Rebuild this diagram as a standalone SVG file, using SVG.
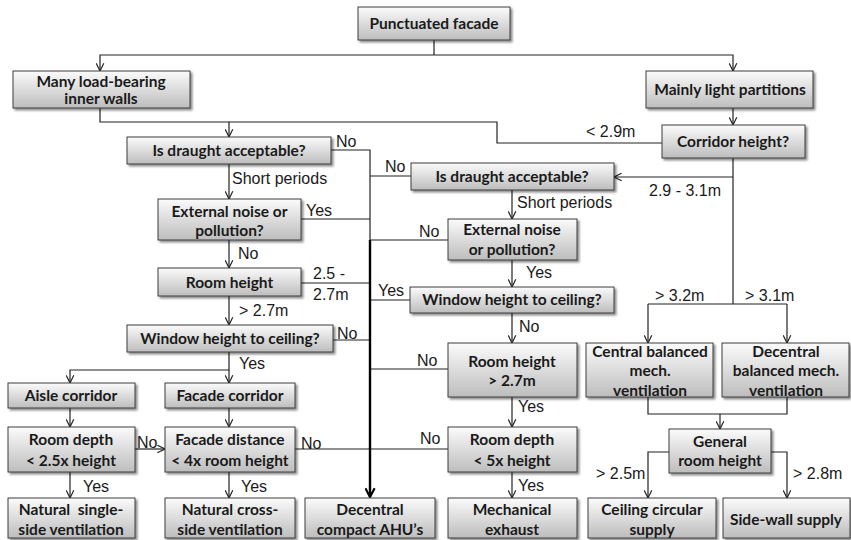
<svg xmlns="http://www.w3.org/2000/svg" width="851" height="540" viewBox="0 0 851 540">
  <defs>
    <linearGradient id="boxFill" x1="0" y1="0" x2="0" y2="1">
      <stop offset="0" stop-color="#fbfbfb"/>
      <stop offset="1" stop-color="#bdbdbd"/>
    </linearGradient>
    <filter id="shadow" x="-10%" y="-20%" width="130%" height="160%">
      <feDropShadow dx="2" dy="2" stdDeviation="1.3" flood-color="#000" flood-opacity="0.45"/>
    </filter>
    <marker id="arr" viewBox="0 0 10 10" refX="9.5" refY="5" markerWidth="9" markerHeight="9" markerUnits="userSpaceOnUse" orient="auto">
      <path d="M1,0.8 L9.5,5 L1,9.2" fill="none" stroke="#222" stroke-width="1.3"/>
    </marker>
    <marker id="arrBold" viewBox="0 0 10 10" refX="9" refY="5" markerWidth="11" markerHeight="11" markerUnits="userSpaceOnUse" orient="auto">
      <path d="M1,0.8 L9,5 L1,9.2" fill="none" stroke="#000" stroke-width="2"/>
    </marker>
  </defs>
  <style>
    .box { fill: url(#boxFill); stroke: #3c3c3c; stroke-width: 1; filter: url(#shadow); }
    .bt { font-family: Lato, "Liberation Sans", sans-serif; font-weight: bold; font-size: 15.5px; fill: #1a1a1a; text-anchor: middle; }
    .lbl { font-family: "Liberation Sans", Arial, sans-serif; font-size: 16px; fill: #1a1a1a; }
    .ln { fill: none; stroke: #222; stroke-width: 1.2; }
    .arrow { marker-end: url(#arr); }
    .trunk { fill: none; stroke: #000; stroke-width: 2.4; marker-end: url(#arrBold); }
  </style>

  <!-- connectors -->
  <g id="connectors">
    <path class="ln" d="M434,40 V55"/>
    <path class="ln arrow" d="M434,55 H100 V71"/>
    <path class="ln arrow" d="M434,55 H733 V71"/>
    <path class="ln arrow" d="M100,108 V122 H229 V137"/>
    <path class="ln" d="M662,143 H497 V122 H229"/>
    <path class="ln arrow" d="M733,108 V125"/>
    <path class="ln" d="M733,158 V304"/>
    <path class="ln arrow" d="M733,177 H614"/>
    <path class="ln" d="M648,304 H787"/>
    <path class="ln arrow" d="M648,304 V343"/>
    <path class="ln arrow" d="M787,304 V343"/>

    <path class="ln arrow" d="M229,164 V199"/>
    <path class="ln" d="M331,150 H370 V241"/>
    <path class="ln" d="M370,176 H411"/>
    <path class="ln" d="M301,219 H370"/>
    <path class="ln" d="M370,240 H448"/>
    <path class="ln arrow" d="M229,240 V268"/>
    <path class="ln" d="M301,283 H370"/>
    <path class="ln" d="M370,300 H410"/>
    <path class="ln arrow" d="M229,296 V325"/>
    <path class="ln" d="M333,340 H370"/>
    <path class="ln" d="M370,369 H448"/>
    <path class="ln arrow" d="M229,352 V370 H70 V383"/>
    <path class="ln arrow" d="M229,370 V383"/>
    <path class="ln arrow" d="M70,408 V427"/>
    <path class="ln arrow" d="M229,408 V427"/>
    <path class="ln arrow" d="M135,449 H165"/>
    <path class="ln arrow" d="M70,472 V498"/>
    <path class="ln arrow" d="M229,472 V498"/>
    <path class="ln" d="M295,449 H448"/>
    <path class="trunk" d="M370,240 V497"/>

    <path class="ln arrow" d="M512,190 V219"/>
    <path class="ln arrow" d="M512,260 V287"/>
    <path class="ln arrow" d="M512,313 V343"/>
    <path class="ln arrow" d="M512,397 V427"/>
    <path class="ln arrow" d="M512,472 V498"/>

    <path class="ln" d="M648,397 V414 H787 V397"/>
    <path class="ln arrow" d="M720,414 V429"/>
    <path class="ln arrow" d="M669,452 H648 V498"/>
    <path class="ln arrow" d="M771,452 H787 V498"/>
  </g>

  <!-- branch labels -->
  <g id="labels" class="lbl">
    <text x="586" y="137">&lt; 2.9m</text>
    <text x="649" y="196">2.9 - 3.1m</text>
    <text x="655" y="301">&gt; 3.2m</text>
    <text x="745" y="301">&gt; 3.1m</text>
    <text x="336" y="147">No</text>
    <text x="232" y="184">Short periods</text>
    <text x="385" y="172">No</text>
    <text x="517" y="208">Short periods</text>
    <text x="306" y="216">Yes</text>
    <text x="419" y="237">No</text>
    <text x="238" y="259">No</text>
    <text x="526" y="278">Yes</text>
    <text x="313" y="279">2.5 -</text>
    <text x="313" y="300">2.7m</text>
    <text x="378" y="296">Yes</text>
    <text x="239" y="316">&gt; 2.7m</text>
    <text x="519" y="332">No</text>
    <text x="337" y="339">No</text>
    <text x="417" y="366">No</text>
    <text x="239" y="369">Yes</text>
    <text x="518" y="412">Yes</text>
    <text x="137" y="448">No</text>
    <text x="301" y="449">No</text>
    <text x="420" y="444">No</text>
    <text x="596" y="479">&gt; 2.5m</text>
    <text x="793" y="479">&gt; 2.8m</text>
    <text x="83" y="492">Yes</text>
    <text x="241" y="492">Yes</text>
    <text x="518" y="491">Yes</text>
  </g>

  <!-- nodes -->
  <g id="punctuated-facade"><rect class="box" x="358" y="7" width="152" height="33"/><text class="bt" x="434" y="29">Punctuated facade</text></g>
  <g id="load-bearing-walls"><rect class="box" x="13" y="71" width="177" height="37"/><text class="bt" x="101" y="87">Many load-bearing</text><text class="bt" x="101" y="104">inner walls</text></g>
  <g id="light-partitions"><rect class="box" x="646" y="71" width="167" height="37"/><text class="bt" x="730" y="95">Mainly light partitions</text></g>
  <g id="corridor-height"><rect class="box" x="662" y="125" width="143" height="33"/><text class="bt" x="733" y="147">Corridor height?</text></g>

  <g id="draught-left"><rect class="box" x="127" y="137" width="204" height="27"/><text class="bt" x="229" y="156">Is draught acceptable?</text></g>
  <g id="noise-left"><rect class="box" x="158" y="199" width="143" height="41"/><text class="bt" x="229.5" y="217">External noise or</text><text class="bt" x="229.5" y="236">pollution?</text></g>
  <g id="room-height-left"><rect class="box" x="158" y="268" width="143" height="28"/><text class="bt" x="229.5" y="288">Room height</text></g>
  <g id="window-left"><rect class="box" x="127" y="325" width="206" height="27"/><text class="bt" x="230" y="344">Window height to ceiling?</text></g>
  <g id="aisle-corridor"><rect class="box" x="8" y="383" width="127" height="25"/><text class="bt" x="71" y="401">Aisle corridor</text></g>
  <g id="facade-corridor"><rect class="box" x="165" y="383" width="130" height="25"/><text class="bt" x="230" y="401">Facade corridor</text></g>
  <g id="room-depth-25"><rect class="box" x="8" y="427" width="127" height="45"/><text class="bt" x="71" y="445">Room depth</text><text class="bt" x="71" y="466">&lt; 2.5x height</text></g>
  <g id="facade-distance"><rect class="box" x="165" y="427" width="130" height="45"/><text class="bt" x="230" y="445">Facade distance</text><text class="bt" x="230" y="466">&lt; 4x room height</text></g>
  <g id="natural-single"><rect class="box" x="8" y="498" width="127" height="40"/><text class="bt" x="71" y="515" xml:space="preserve">Natural  single-</text><text class="bt" x="71" y="535">side ventilation</text></g>
  <g id="natural-cross"><rect class="box" x="165" y="498" width="130" height="40"/><text class="bt" x="230" y="515">Natural cross-</text><text class="bt" x="230" y="535">side ventilation</text></g>
  <g id="decentral-compact"><rect class="box" x="305" y="498" width="130" height="40"/><text class="bt" x="370" y="515">Decentral</text><text class="bt" x="370" y="535">compact AHU’s</text></g>

  <g id="draught-right"><rect class="box" x="411" y="163" width="203" height="27"/><text class="bt" x="512" y="182">Is draught acceptable?</text></g>
  <g id="noise-right"><rect class="box" x="448" y="219" width="129" height="41"/><text class="bt" x="512" y="235">External noise</text><text class="bt" x="512" y="255">or pollution?</text></g>
  <g id="window-right"><rect class="box" x="410" y="287" width="204" height="26"/><text class="bt" x="512" y="305">Window height to ceiling?</text></g>
  <g id="room-height-27"><rect class="box" x="448" y="343" width="129" height="54"/><text class="bt" x="512" y="367">Room height</text><text class="bt" x="512" y="386">&gt; 2.7m</text></g>
  <g id="room-depth-5"><rect class="box" x="448" y="427" width="129" height="45"/><text class="bt" x="512" y="445">Room depth</text><text class="bt" x="512" y="466">&lt; 5x height</text></g>
  <g id="mechanical-exhaust"><rect class="box" x="448" y="498" width="129" height="40"/><text class="bt" x="512" y="515">Mechanical</text><text class="bt" x="512" y="535">exhaust</text></g>

  <g id="central-balanced"><rect class="box" x="586" y="343" width="127" height="54"/><text class="bt" x="650" y="357">Central balanced</text><text class="bt" x="650" y="376">mech.</text><text class="bt" x="650" y="396">ventilation</text></g>
  <g id="decentral-balanced"><rect class="box" x="722" y="343" width="127" height="54"/><text class="bt" x="786" y="357">Decentral</text><text class="bt" x="786" y="376">balanced mech.</text><text class="bt" x="786" y="396">ventilation</text></g>
  <g id="general-room-height"><rect class="box" x="669" y="429" width="102" height="44"/><text class="bt" x="720" y="447">General</text><text class="bt" x="720" y="466">room height</text></g>
  <g id="ceiling-circular"><rect class="box" x="588" y="498" width="128" height="40"/><text class="bt" x="652" y="515">Ceiling circular</text><text class="bt" x="652" y="535">supply</text></g>
  <g id="side-wall-supply"><rect class="box" x="723" y="498" width="127" height="40"/><text class="bt" x="786" y="525">Side-wall supply</text></g>
</svg>
